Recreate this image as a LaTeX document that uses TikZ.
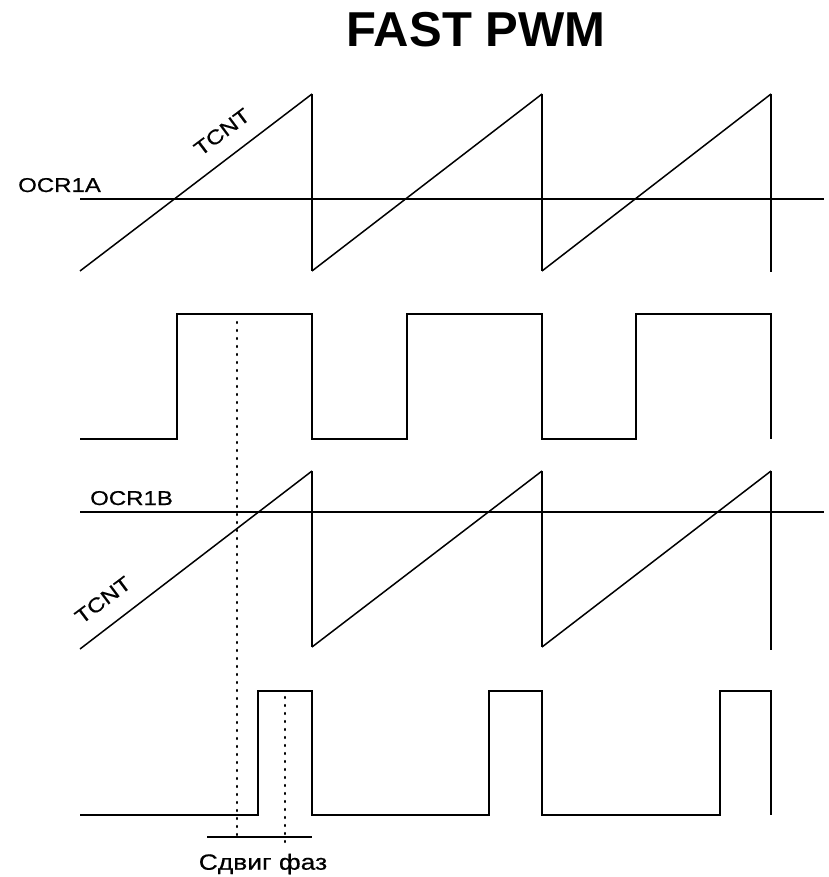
\documentclass[tikz,border=0pt]{standalone}
\usepackage{fontspec}
\setmainfont{Liberation Sans}
\newfontfamily\pwmfont[FakeStretch=1.2,FakeBold=0.6]{Liberation Sans}
\usetikzlibrary{positioning}

\begin{document}
\begin{tikzpicture}[x=1pt,y=-1pt,
    every node/.style={font=\pwmfont\fontsize{20}{20}\selectfont,inner sep=0pt},
    sig/.style={line width=1.8pt,line join=miter},
    ramp/.style={line width=1.5pt},
    phase/.style={line width=2.4pt,line cap=round,dash pattern=on 1pt off 7pt}]
    \useasboundingbox (0,0) rectangle (828,877);
    \node[font=\fontsize{49}{49}\selectfont\bfseries] (title) at (476,30) {FAST PWM};
    % counter vs OCR1A
    \node[anchor=base west] (ocra) at (18,192) {OCR1A};
    \node[rotate=37] (tcnta) at (222,132) {TCNT};
    \draw[sig] (80,199) -- (824,199);
    \draw[ramp] (80,271) -- (312,94);
    \draw[ramp] (312,271) -- (542,94);
    \draw[ramp] (542,271) -- (771,94);
    \draw[sig] (312,94) -- (312,271);
    \draw[sig] (542,94) -- (542,271);
    \draw[sig] (771,94) -- (771,272);
    % output A
    \draw[sig] (80,439) -- (177,439) -- (177,314) -- (312,314) -- (312,439)
          -- (407,439) -- (407,314) -- (542,314) -- (542,439)
          -- (636,439) -- (636,314) -- (771,314) -- (771,439);
    % counter vs OCR1B
    \node[anchor=base west] (ocrb) at (90,505) {OCR1B};
    \node[rotate=37] (tcntb) at (103,600) {TCNT};
    \draw[sig] (80,512) -- (824,512);
    \draw[ramp] (80,649) -- (312,471);
    \draw[ramp] (312,647) -- (542,471);
    \draw[ramp] (542,647) -- (771,471);
    \draw[sig] (312,471) -- (312,647);
    \draw[sig] (542,471) -- (542,647);
    \draw[sig] (771,471) -- (771,650);
    % output B
    \draw[sig] (80,815) -- (258,815) -- (258,691) -- (312,691) -- (312,815)
          -- (489,815) -- (489,691) -- (542,691) -- (542,815)
          -- (720,815) -- (720,691) -- (771,691) -- (771,815);
    % phase shift
    \draw[phase] (237,322) -- (237,840);
    \draw[phase] (285,697) -- (285,843);
    \draw[sig] (207,837) -- (312,837);
    \node[font=\pwmfont\fontsize{22}{22}\selectfont] (shift) at (263,864) {Сдвиг фаз};
\end{tikzpicture}
\end{document}
